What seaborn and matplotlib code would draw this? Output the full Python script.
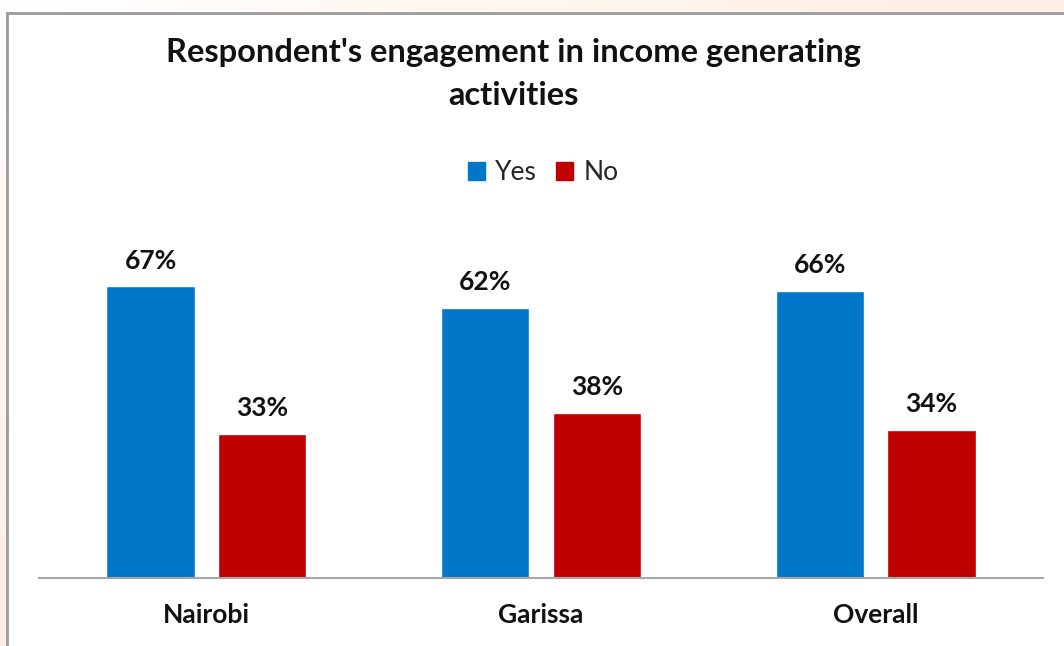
import numpy as np
import pandas as pd
import matplotlib
matplotlib.use("Agg")
import matplotlib.pyplot as plt
import seaborn as sns
from matplotlib.patches import Rectangle

categories = ["Nairobi", "Garissa", "Overall"]
series_names = ["Yes", "No"]
yes_values = [67, 62, 66]
no_values = [33, 38, 34]
title_text = "Respondent's engagement in income generating\nactivities"

df = pd.DataFrame({
    "Location": categories * 2,
    "Response": [series_names[0]] * 3 + [series_names[1]] * 3,
    "Value": yes_values + no_values,
})

sns.set_theme(style="white")
plt.rcParams["font.family"] = ["Lato", "DejaVu Sans"]

W, H = 1064, 646
fig = plt.figure(figsize=(W / 100, H / 100), dpi=100)

# background with peach gradient at edges
bg = fig.add_axes([0, 0, 1, 1], zorder=-10)
xx, yy = np.meshgrid(np.linspace(0, 1, 200), np.linspace(0, 1, 120))
wgt = np.clip((xx + yy) * 1.2, 0, 1)
peach = np.array([1.0, 0.945, 0.90])
img = (1 - wgt)[..., None] * np.array([1, 1, 1]) + wgt[..., None] * peach
bg.imshow(img, extent=[0, 1, 0, 1], aspect="auto", origin="upper")
bg.add_patch(Rectangle((7 / W, -0.1), 1.2, (H - 13) / H + 0.1, facecolor="white",
                       edgecolor="#9a9a9a", linewidth=2, transform=bg.transAxes))
bg.set_xlim(0, 1)
bg.set_ylim(0, 1)
bg.axis("off")

ax = fig.add_axes([39 / W, (H - 578) / H, 1004 / W, (578 - 232) / H])
ax.set_facecolor("none")
palette = {"Yes": "#0077C8", "No": "#C00000"}
sns.barplot(data=df, x="Location", y="Value", hue="Response", palette=palette,
            width=0.667, gap=0.21, ax=ax, legend=False, saturation=1)
ax.set_ylim(0, 79.5)
ax.set_xlim(-0.5, 2.5)
for c in ax.containers:
    ax.bar_label(c, labels=[f"{int(v)}%" for v in c.datavalues], padding=10,
                 fontsize=19, fontweight="bold", color="#111111")
ax.set_xlabel("")
ax.set_ylabel("")
ax.set_yticks([])
ax.tick_params(axis="x", length=0, pad=18)
for lab in ax.get_xticklabels():
    lab.set_fontsize(19)
    lab.set_fontweight("bold")
    lab.set_color("#111111")
for s in ["top", "right", "left"]:
    ax.spines[s].set_visible(False)
ax.spines["bottom"].set_color("#a6a6a6")
ax.spines["bottom"].set_linewidth(1.5)

fig.text(513 / W, 1 - 74 / H, title_text, ha="center", va="center",
         fontsize=23.5, fontweight="bold", color="#111111", linespacing=1.6)

handles = [Rectangle((0, 0), 1, 1, color=palette[n]) for n in series_names]
fig.legend(handles, series_names, loc="center", bbox_to_anchor=(543 / W, 1 - 173 / H),
           ncol=2, frameon=False, fontsize=19, handlelength=0.65, handleheight=0.65,
           handletextpad=0.4, columnspacing=0.7)

fig.savefig("out.png", dpi=100)
